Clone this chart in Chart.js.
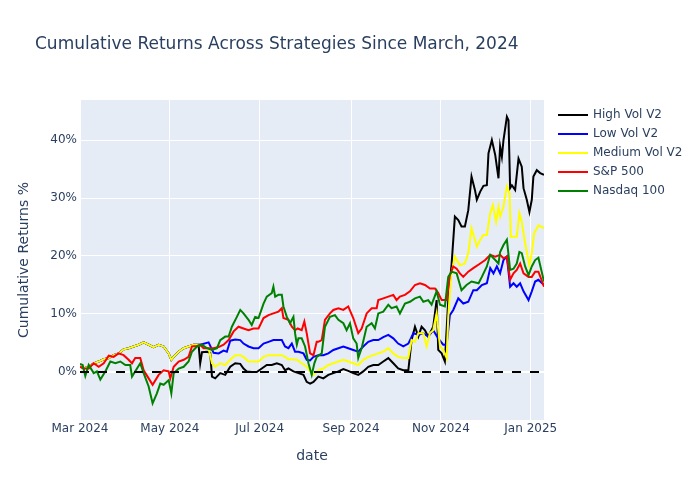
<!DOCTYPE html>
<html>
<head>
<meta charset="utf-8">
<script src="https://cdn.jsdelivr.net/npm/chart.js@4.4.1/dist/chart.umd.min.js"></script>
<style>
  html, body { margin: 0; padding: 0; background: #ffffff; }
  #wrap { width: 700px; height: 500px; position: relative; }
</style>
</head>
<body>
<div id="wrap"><canvas id="c" width="700" height="500"></canvas></div>
<script>
// ---- Data (x = days since 2024-03-01, y = cumulative return %) ----
const titleText = "Cumulative Returns Across Strategies Since March, 2024";
const seriesNames = ["High Vol V2", "Low Vol V2", "Medium Vol V2", "S&P 500", "Nasdaq 100"];
const seriesColors = ["#000000", "#0000ff", "#ffff00", "#ff0000", "#008000"];

const xTickDays = [0, 61, 122, 184, 245, 306];
const xTickLabels = ["Mar 2024", "May 2024", "Jul 2024", "Sep 2024", "Nov 2024", "Jan 2025"];
const yTickValues = [0, 10, 20, 30, 40];

const mediumDays = [0,2.5,5.9,9.3,12.7,16.1,19.5,22.8,26.2,29.6,33,36.4,39.8,43.2,46.6,49.9,53.4,56.8,60.2,62,63.6,67,70.4,73.7,77.1,80.5,83.9,87.3,89.6,91.8,95.2,98.6,102,105.4,108.8,111,114.4,117.8,121.2,124.6,128,131.3,134.7,137,139.2,141.5,143.8,147.2,150.5,153.9,156.2,158.5,161.8,165.2,168.6,172,175.4,178.8,182.1,185.5,188.9,192.3,195.7,199.1,202.5,205.9,209.3,212.7,216,219.5,222.9,225.1,227.4,229.7,233.1,235.3,237.6,239.8,242.1,244.4,246.6,248.9,250,251.8,254.5,257.9,261.3,263.6,265.8,268.1,269.4,271.7,273.9,276.2,278.5,280.3,282.5,284.1,285.2,287.5,289.8,291.6,292.5,294.3,296.5,298.3,299.9,302.2,305.1,306.7,308.3,311.2,315];
const mediumVals = [0.9,0.6,0.9,1.5,1.8,2.2,2.4,2.9,3.2,3.9,4.1,4.4,4.7,5.1,4.7,4.3,4.7,4.4,3.2,2.1,2.6,3.5,4.1,4.4,4.7,4.7,4.4,4.1,1.5,0.9,1.5,1.2,2.1,2.9,2.9,2.6,1.8,1.8,1.8,2.6,2.9,2.9,2.9,2.9,2.6,2.2,2.2,2.1,1.5,0.9,0.1,-0.5,0.3,0.6,1.2,1.5,1.8,2.1,1.8,1.5,1.2,2.1,2.6,2.9,3.2,3.5,4.1,3.2,2.6,2.4,2.4,5.5,5.2,6.7,6.7,4.4,6.7,7.2,10.1,4.4,3.8,2.4,9.5,16.4,19.9,18.4,18.7,20.5,24.8,22.8,21.6,22.8,23.6,23.6,27.4,28.8,25.9,28.5,26.8,28.5,32.0,30.8,23.3,23.3,23.3,27.4,25.9,22.2,18.4,20.5,23.9,25.3,24.8];

const lowDays = [0,2.5,5.9,9.3,12.7,16.1,19.5,22.8,26.2,29.6,33,36.4,39.8,43.2,46.6,49.9,53.4,56.8,60.2,62,63.6,67,70.4,73.7,77.1,80.5,81.6,87.3,90.7,94.1,97.5,99.7,102,105.4,108.8,111,114.4,117.8,121.2,124.6,128,131.3,134.7,137,139.2,141.5,143.8,146,148.3,151.7,153.9,156.2,158.5,161.8,165.2,168.6,172,175.4,178.8,182.1,185.5,188.9,192.3,195.7,199.1,202.5,205.9,209.3,212.7,216,219.5,222.9,226.3,229.7,233.1,236.4,239.8,243.2,246.6,248.9,251.1,253.4,256.8,260.2,263.6,267,269.4,272.8,276.2,278.5,280.7,283,285.2,287.5,289.8,292,294.3,296.5,298.8,301.1,304.5,306.7,309,311.2,315];
const lowVals = [0.9,0.6,0.9,1.5,1.8,2.2,2.4,2.9,3.2,3.9,4.1,4.4,4.7,5.1,4.7,4.3,4.7,4.4,3.2,2.1,2.6,3.5,4.1,4.4,4.7,4.7,4.7,5.1,3.3,3.2,3.7,3.5,5.4,5.6,5.5,4.9,4.4,4.1,4.1,4.9,5.2,5.5,5.5,5.5,4.4,4.1,4.9,3.5,3.5,3.2,2.1,2.0,2.6,2.9,2.9,3.2,3.8,4.1,4.4,4.1,3.8,3.5,4.4,5.2,5.5,5.5,6.0,6.4,5.8,4.9,4.4,4.9,6.7,6.4,6.7,6.1,7.2,5.8,4.7,4.7,9.8,10.7,12.7,11.8,12.1,14.1,14.1,15.0,15.3,17.9,17.0,18.2,17.0,19.3,19.9,14.7,15.3,14.7,15.3,13.9,12.4,13.9,15.6,15.9,15.0];

const highDays = [0,2.5,5.9,9.3,12.7,16.1,19.5,22.8,26.2,29.6,33,36.4,39.8,43.2,46.6,49.9,53.4,56.8,60.2,62,63.6,67,70.4,73.7,77.1,80.5,81.6,82.8,86.2,88.4,89.6,91.8,95.2,98.6,102,105.4,108.8,111,113.3,116.6,120,123.4,126.8,130.2,133.6,137,139.2,141.5,144.9,148.3,151.7,153.9,156.2,158.5,161.8,165.2,168.6,172,175.4,178.8,182.1,185.5,188.9,192.3,195.7,199.1,202.5,205.9,209.3,212.7,216,219.5,222.9,225.1,227.4,229.7,231.9,234.2,236.4,239.8,242.1,243.2,245.5,247.7,250,252.3,254.5,256.8,259,261.3,263.6,265.8,268.1,269.4,271.7,273.9,276.2,277.3,279.6,281.9,284.1,285.2,286.4,287.5,289.8,290.9,292,293.2,295.4,297.7,299.9,301.1,303.3,305.1,306.7,307.8,310.1,312.4,315];
const highVals = [0.9,0.6,0.9,1.5,1.8,2.2,2.4,2.9,3.2,3.9,4.1,4.4,4.7,5.1,4.7,4.3,4.7,4.4,3.2,2.1,2.6,3.5,4.1,4.4,4.7,4.7,1.5,3.4,3.5,3.3,-0.8,-1.1,-0.2,-0.5,0.9,1.5,1.4,0.6,0.1,0.0,0.0,0.6,1.2,1.2,1.5,1.2,0.3,0.6,0.1,-0.2,-0.5,-1.7,-2.0,-1.7,-0.8,-1.1,-0.5,-0.2,0.1,0.5,0.2,-0.2,-0.5,0.1,0.9,1.2,1.2,1.8,2.4,1.5,0.6,0.3,0.3,5.5,7.8,6.1,7.8,7.2,6.1,7.8,12.4,3.8,3.2,1.8,12.4,18.7,26.8,26.2,25.1,25.1,27.9,33.7,31.4,29.7,31.1,32.1,32.2,37.7,40.0,37.4,33.4,38.9,37.1,40.0,44.0,43.4,31.7,32.2,31.4,36.8,35.4,31.7,29.7,27.6,29.7,33.7,34.8,34.3,34.0];

const spDays = [0,2.5,5.9,9.3,12.7,16.1,19.5,22.8,26.2,29.6,33,35.3,37.5,40.9,43.2,46.6,49.3,53.4,56.8,60.2,61.3,63.6,67,70.4,73.7,76,79.4,81.6,83.9,87.3,90.7,94.1,97.5,100.9,104.3,107.6,111,114.4,117.8,121.2,124.6,128,131.3,134.7,137,138.1,141.5,143.8,146,147.8,150.5,152.3,153.9,156.2,158.5,160.7,161.8,164.1,166.3,169.7,172,175.4,178.8,182.1,185.5,188.9,191.2,194.6,198,201.4,202.5,205.9,209.3,212.7,214.9,217.2,220.6,224,227.4,230.8,234.2,237.6,241,243.2,245.5,248.9,251.1,253.4,255.7,257.9,260.2,263.6,267,271.7,275.1,278.5,281.9,285.2,287.5,289.8,292,294.3,296.5,298.8,301.1,304.5,306.7,309,311.2,315];
const spVals = [0.9,0.6,0.6,1.5,0.9,1.5,2.8,2.6,3.2,2.9,2.1,1.5,2.4,2.4,0.3,-1.1,-2.2,-0.5,0.3,0.1,-1.1,0.9,1.8,2.1,2.6,4.4,4.5,4.7,4.1,4.1,4.1,4.3,4.7,5.5,7.0,7.8,7.5,7.2,7.5,7.5,9.3,9.8,10.1,10.4,11.0,9.3,9.0,7.8,7.2,7.5,7.2,8.7,6.7,3.2,2.9,5.2,5.2,5.5,9.0,10.1,10.7,11.0,10.7,11.3,9.3,6.7,7.5,10.1,11.0,11.0,12.4,12.7,13.0,13.3,12.4,13.0,13.3,13.9,15.0,15.3,15.0,14.4,14.4,13.6,12.4,12.4,16.7,18.2,17.8,17.0,16.4,17.3,17.9,18.7,19.3,20.2,19.9,20.2,19.6,19.9,15.9,17.0,17.6,18.7,17.0,16.4,16.4,17.3,17.3,14.7];

const ndxDays = [0,1.8,3.6,5.9,9.3,11.5,13.8,17.2,20.6,24,27.4,30.8,34.1,35.3,38.7,40.9,43.2,46.6,49.3,52.2,54.5,56.8,60.2,62,63.6,67,70.4,73.7,76,79.4,82.8,86.2,89.6,93,95.2,98.6,100.9,103.1,106.5,108.8,111,114.4,116.6,118.9,121.2,124.6,126.8,130.2,131.3,132.5,134.7,137,138.1,140.4,142.6,144.9,146,147.2,148.3,150.5,152.8,155.1,157.3,159.1,160.7,164.1,166.3,169.7,173.1,175.4,178.8,181,183.3,185.5,187.8,188.9,191.2,194.6,198,200.2,202.5,205.9,209.3,211.5,214.9,217.2,220.6,224,227.4,230.8,233.1,236.4,238.7,242.1,244.4,247.7,250,252.3,255.7,259,262.4,265.8,270.6,272.8,276.2,278.5,281.9,284.1,285.2,287.5,289.8,292,294.3,296.5,298.3,299.9,302.2,304.5,306.7,309,311.2,315];
const ndxVals = [1.4,1.2,-0.7,1.2,-0.2,0.1,-1.3,0.1,1.8,1.5,1.8,1.2,1.2,-0.8,0.6,1.5,-0.2,-2.5,-5.4,-3.7,-2.0,-2.2,-1.4,-3.7,-0.2,0.6,0.9,1.8,3.5,4.4,4.7,4.1,3.8,4.1,5.5,6.1,6.1,7.8,9.5,10.7,10.1,9.0,8.1,9.5,9.3,11.8,13.0,13.6,14.7,13.0,13.3,13.3,11.3,9.5,8.4,9.5,6.7,4.7,5.8,5.8,4.4,1.5,-0.5,1.5,2.6,3.2,7.8,9.5,9.8,9.0,8.4,7.2,8.4,5.8,4.9,2.4,4.1,7.8,8.4,7.5,10.1,10.4,11.6,11.0,11.3,10.1,11.8,12.1,12.7,13.0,12.1,12.4,11.6,13.9,11.6,11.3,16.4,17.3,17.0,14.1,15.0,15.6,15.3,16.4,18.2,20.2,19.3,18.7,20.7,21.9,22.8,17.6,17.8,18.7,20.7,20.5,18.2,16.7,18.2,19.3,19.7,15.6];

const zeroLineDays = [0, 315];
const zeroLineVals = [0, 0];

// ---- helpers ----
function toPoints(days, vals) {
  const n = Math.min(days.length, vals.length);
  const pts = [];
  for (let i = 0; i < n; i++) pts.push({ x: days[i], y: vals[i] });
  return pts;
}

const FONT = "'DejaVu Sans', sans-serif";
const TEXT = "#2a3f5f";
Chart.defaults.font.family = FONT;
Chart.defaults.color = TEXT;

const seriesData = [
  toPoints(highDays, highVals),
  toPoints(lowDays, lowVals),
  toPoints(mediumDays, mediumVals),
  toPoints(spDays, spVals),
  toPoints(ndxDays, ndxVals)
];

const datasets = seriesNames.map((name, i) => ({
  label: name,
  data: seriesData[i],
  borderColor: seriesColors[i],
  backgroundColor: seriesColors[i],
  borderWidth: 2,
  pointRadius: 0,
  tension: 0,
  fill: false,
  order: 5 - i
}));
datasets.push({
  label: "zero",
  data: toPoints(zeroLineDays, zeroLineVals),
  borderColor: "#000000",
  borderWidth: 2,
  borderDash: [9, 9],
  pointRadius: 0,
  fill: false,
  order: -1
});

const decorPlugin = {
  id: "decor",
  beforeDraw(chart) {
    const { ctx, chartArea: a } = chart;
    ctx.save();
    ctx.fillStyle = "#ffffff";
    ctx.fillRect(0, 0, chart.width, chart.height);
    ctx.fillStyle = "#E5ECF6";
    ctx.fillRect(a.left, a.top, a.right - a.left, a.bottom - a.top);
    ctx.restore();
  },
  afterDraw(chart) {
    const { ctx, chartArea: a } = chart;
    ctx.save();
    // title
    ctx.fillStyle = TEXT;
    ctx.font = "17px " + FONT;
    ctx.textAlign = "left";
    ctx.textBaseline = "middle";
    ctx.fillText(titleText, 35, 45);
    // x axis title
    ctx.font = "14px " + FONT;
    ctx.textAlign = "center";
    ctx.fillText("date", (a.left + a.right) / 2, 456);
    // y axis title
    ctx.save();
    ctx.translate(24, (a.top + a.bottom) / 2);
    ctx.rotate(-Math.PI / 2);
    ctx.fillText("Cumulative Returns %", 0, 0);
    ctx.restore();
    // legend
    ctx.font = "12px " + FONT;
    ctx.textAlign = "left";
    seriesNames.forEach((name, i) => {
      const y = 115 + i * 19;
      ctx.strokeStyle = seriesColors[i];
      ctx.lineWidth = 2;
      ctx.beginPath();
      ctx.moveTo(558, y);
      ctx.lineTo(588, y);
      ctx.stroke();
      ctx.fillStyle = TEXT;
      ctx.fillText(name, 593, y);
    });
    ctx.restore();
  }
};

new Chart(document.getElementById("c"), {
  type: "line",
  data: { datasets },
  plugins: [decorPlugin],
  options: {
    responsive: false,
    animation: false,
    layout: { padding: { left: 0, top: 100, right: 156, bottom: 0 } },
    plugins: {
      legend: { display: false },
      title: { display: false },
      tooltip: { enabled: false }
    },
    scales: {
      x: {
        type: "linear",
        min: 0,
        max: 315,
        afterFit(scale) { scale.height = 80; },
        afterBuildTicks(scale) { scale.ticks = xTickDays.map(v => ({ value: v })); },
        ticks: {
          autoSkip: false,
          maxRotation: 0,
          padding: 2,
          color: TEXT,
          font: { size: 12, family: FONT },
          callback(v) {
            const i = xTickDays.indexOf(v);
            return i >= 0 ? xTickLabels[i] : "";
          }
        },
        grid: { color: "#ffffff", lineWidth: 1, drawTicks: false },
        border: { display: false }
      },
      y: {
        type: "linear",
        min: -8.28,
        max: 46.9,
        afterFit(scale) { scale.width = 80; },
        afterBuildTicks(scale) { scale.ticks = yTickValues.map(v => ({ value: v })); },
        ticks: {
          padding: 3,
          color: TEXT,
          font: { size: 12, family: FONT },
          callback(v) { return v + "%"; }
        },
        grid: {
          color: "#ffffff",
          lineWidth: (c) => (c.tick && c.tick.value === 0 ? 2 : 1),
          drawTicks: false
        },
        border: { display: false }
      }
    }
  }
});
</script>
</body>
</html>
